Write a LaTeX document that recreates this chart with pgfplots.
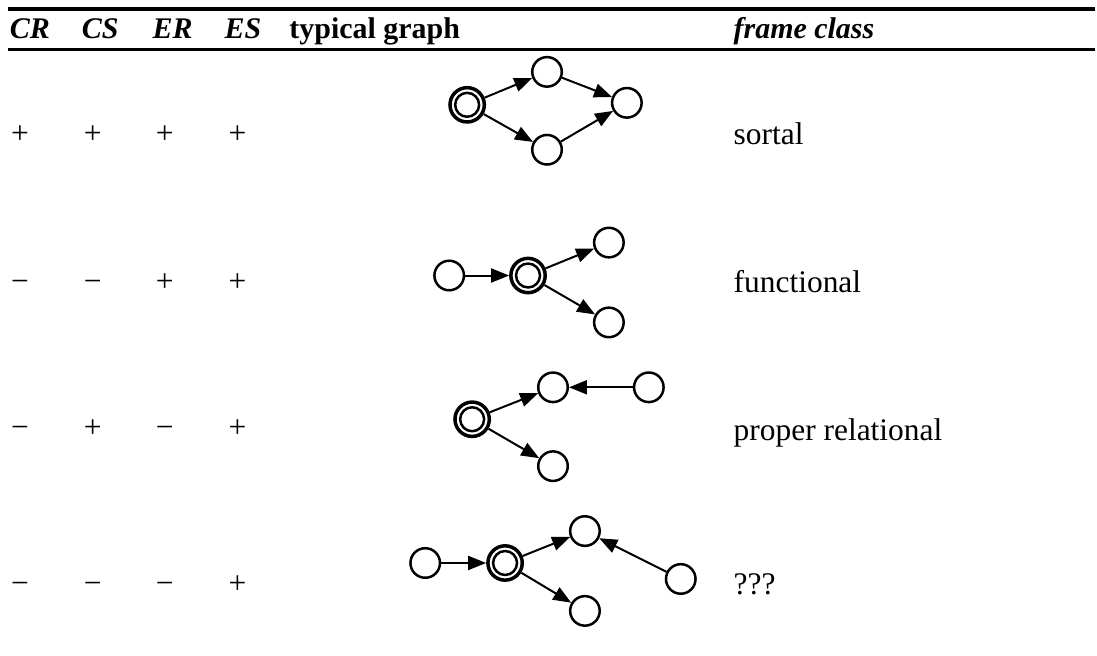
\documentclass[border=0pt]{standalone}
\usepackage{fontspec}
\setmainfont{Liberation Serif}
\usepackage{pgfplots}
\usepackage{pgfplotstable}
\pgfplotsset{compat=1.18}
\usetikzlibrary{arrows.meta}

\pgfplotstableread{
x y
548 72
628 103
548 150
450 276
610 243
610 323
554 388
650 388
554 467
426 564
586 532
586 612
682 580
}\plaintab

\pgfplotstableread{
x y
468 105
529 276
473 420
506 564
}\doubletab

\pgfplotstableread{
x y u v
485.6 97.8 47.6 -19.7
562.9 77.8 50.2 19.4
484.6 114.3 49.4 27.9
561.8 141.9 52.4 -30.8
466 276 44 0
546.6 268.8 48.6 -19.8
545.4 285.5 50.8 29.5
490.7 413.0 48.4 -19.1
634 388 -64 0
489.4 429.5 50.8 29.5
442 564 45 0
523.6 557.0 47.6 -19.1
522.3 573.8 50.0 30.0
667.7 572.8 -67.4 -33.6
}\arrowtab

\tikzset{every node/.append style={inner sep=0pt, outer sep=0pt}}
\newcommand\hd{\fontsize{30}{36}\selectfont\bfseries}

\begin{document}
\fontsize{31.5}{38}\selectfont
\begin{tikzpicture}
\begin{axis}[
  x=1pt, y=1pt, y dir=reverse,
  xmin=0, xmax=1097, ymin=0, ymax=657,
  hide axis, clip=false,
]
\path (rel axis cs:0,0) rectangle (rel axis cs:1,1);
% rules
\addplot[line width=4pt, line cap=butt] coordinates {(8,9) (1097,9)};
\addplot[line width=2.5pt, line cap=butt] coordinates {(8,49.5) (1097,49.5)};
% arrows
\addplot[line width=2pt, -{Triangle[length=18pt,width=14pt]},
  quiver={u=\thisrow{u}, v=\thisrow{v}}] table[x=x,y=y] {\arrowtab};
% plain nodes
\addplot[only marks, mark=o, mark size=14.8pt, mark options={line width=2.5pt, fill=white}] table[x=x,y=y] {\plaintab};
% double nodes
\addplot[only marks, mark=o, mark size=17.2pt, mark options={line width=3.5pt, fill=white}] table[x=x,y=y] {\doubletab};
\addplot[only marks, mark=o, mark size=12pt, mark options={line width=2.5pt}] table[x=x,y=y] {\doubletab};
% header
\node[anchor=base west, inner sep=0pt] at (axis cs:10,39) {\hd\itshape CR};
\node[anchor=base west, inner sep=0pt] at (axis cs:82,39) {\hd\itshape CS};
\node[anchor=base west, inner sep=0pt] at (axis cs:153,39) {\hd\itshape ER};
\node[anchor=base west, inner sep=0pt] at (axis cs:225,39) {\hd\itshape ES};
\node[anchor=base west, inner sep=0pt] at (axis cs:290,39) {\hd typical graph};
\node[anchor=base west, inner sep=0pt] at (axis cs:735,39) {\hd\itshape frame class};
% row 1
\node[anchor=base] at (axis cs:20,144) {+};
\node[anchor=base] at (axis cs:93,144) {+};
\node[anchor=base] at (axis cs:165,144) {+};
\node[anchor=base] at (axis cs:238,144) {+};
\node[anchor=base west, inner sep=0pt] at (axis cs:735,145) {sortal};
% row 2
\node[anchor=base] at (axis cs:20,292) {−};
\node[anchor=base] at (axis cs:93,292) {−};
\node[anchor=base] at (axis cs:165,292) {+};
\node[anchor=base] at (axis cs:238,292) {+};
\node[anchor=base west, inner sep=0pt] at (axis cs:735,293) {functional};
% row 3
\node[anchor=base] at (axis cs:20,438) {−};
\node[anchor=base] at (axis cs:93,438) {+};
\node[anchor=base] at (axis cs:165,438) {−};
\node[anchor=base] at (axis cs:238,438) {+};
\node[anchor=base west, inner sep=0pt] at (axis cs:735,441) {proper relational};
% row 4
\node[anchor=base] at (axis cs:20,595) {−};
\node[anchor=base] at (axis cs:93,595) {−};
\node[anchor=base] at (axis cs:165,595) {−};
\node[anchor=base] at (axis cs:238,595) {+};
\node[anchor=base west, inner sep=0pt] at (axis cs:735,596) {???};
\end{axis}
\end{tikzpicture}
\end{document}
